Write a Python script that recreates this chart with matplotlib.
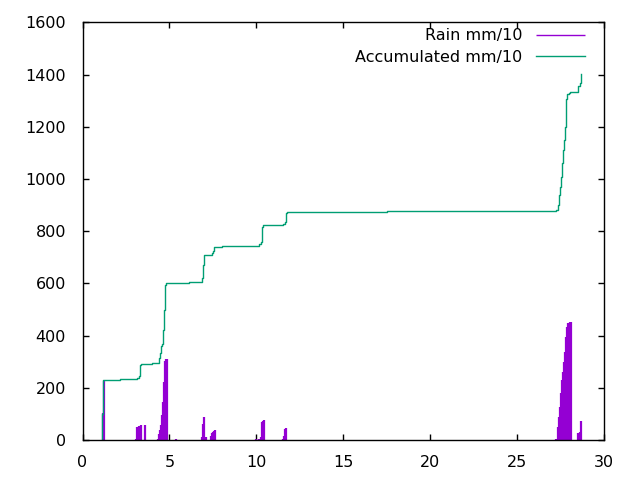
import matplotlib
matplotlib.use("Agg")
import matplotlib.pyplot as plt

# Rain impulses (day, mm/10)
rain_x = [1.15, 1.22,
          3.07, 3.15, 3.25, 3.36, 3.62,
          4.36, 4.42, 4.48, 4.53, 4.59, 4.65, 4.71, 4.76, 4.82, 4.88, 5.37,
          6.87, 6.93, 6.99, 7.04, 7.10, 7.39, 7.45, 7.51, 7.56, 7.62,
          9.98, 10.15, 10.26, 10.32, 10.38, 10.43,
          11.53, 11.59, 11.65, 11.70,
          27.22, 27.33, 27.39, 27.45, 27.51, 27.56, 27.62, 27.68, 27.74,
          27.80, 27.85, 27.91, 27.97, 28.03, 28.08,
          28.49, 28.60, 28.66]
rain_y = [102, 227,
          5, 48, 53, 58, 57,
          3, 23, 38, 57, 96, 147, 223, 304, 309, 311, 5,
          10, 61, 89, 8, 10, 15, 25, 32, 36, 38,
          4, 5, 10, 70, 74, 77,
          4, 15, 42, 46,
          4, 51, 89, 128, 179, 230, 262, 300, 338,
          395, 431, 447, 449, 452, 453,
          25, 32, 74]

# Accumulated total (day where it steps, new level)
acc_x = [1.12, 1.13, 1.18, 2.15, 3.14, 3.22, 3.28, 3.37, 3.99, 4.41, 4.47,
         4.52, 4.58, 4.64, 4.70, 4.76, 4.81, 6.10, 6.85, 6.94, 7.00, 7.43,
         7.48, 7.56, 8.00, 10.17, 10.28, 10.34, 10.40, 11.55, 11.63, 11.69,
         11.74, 17.50, 27.25, 27.32, 27.38, 27.44, 27.50, 27.55, 27.61,
         27.67, 27.73, 27.78, 27.82, 27.88, 27.96, 28.05, 28.47, 28.59,
         28.65]
acc_y = [0, 100, 230, 233, 238, 245, 287, 291, 296, 316, 332,
         361, 366, 421, 498, 593, 603, 606, 619, 670, 708, 715,
         725, 738, 743, 750, 759, 816, 822, 829, 835, 870,
         873, 876, 880, 900, 938, 970, 1008, 1061, 1110,
         1148, 1199, 1257, 1308, 1324, 1329, 1332, 1356, 1368,
         1403]

fig = plt.figure(figsize=(6.4, 4.8), dpi=100)
ax = fig.add_axes([0.129, 0.0833, 0.815, 0.8702])

ax.vlines(rain_x, 0, rain_y, color="#9400d3", linewidth=1.6, label="Rain mm/10")
ax.plot(acc_x, acc_y, color="#009e73", linewidth=1.0, drawstyle="steps-post",
        label="Accumulated mm/10")

ax.set_xlim(0, 30)
ax.set_ylim(0, 1600)
ax.set_xticks(range(0, 31, 5))
ax.set_yticks(range(0, 1601, 200))
ax.tick_params(direction="in", length=4, width=1, top=True, right=True,
               labelsize=11.5, colors="black")
ax.tick_params(axis="y", pad=12)
ax.tick_params(axis="x", pad=10.5)
for s in ax.spines.values():
    s.set_linewidth(1.0)

leg = ax.legend(loc="upper right", frameon=False, markerfirst=False, fontsize=11.5,
                handlelength=3.05, handletextpad=0.9, labelspacing=0.38,
                borderaxespad=0.3, bbox_to_anchor=(0.985, 1.012))
for h in leg.legend_handles:
    h.set_linewidth(1.0)

fig.savefig("out.png", dpi=100)
